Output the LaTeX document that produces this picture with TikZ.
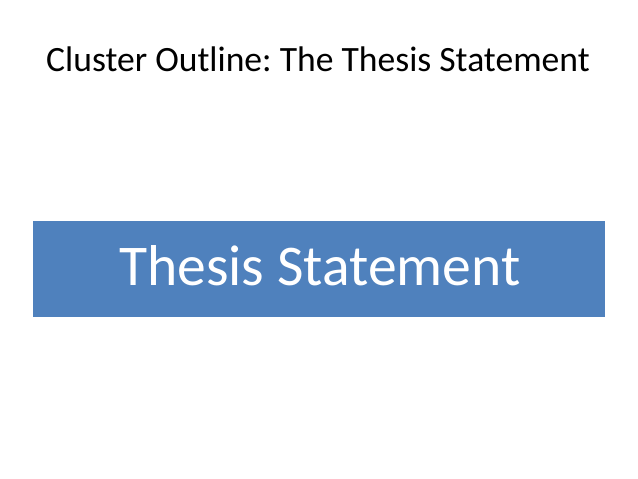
\documentclass[tikz,border=0pt]{standalone}
\usepackage{fontspec}
\setmainfont{Carlito}
\usepackage{tikz}
\definecolor{slideblue}{HTML}{4F81BD}
\frenchspacing

\begin{document}
\begin{tikzpicture}[x=1pt,y=-1pt,
    title node/.style={font=\fontsize{35.6}{40}\selectfont,anchor=base,inner sep=0pt},
    thesis box/.style={fill=slideblue,draw=none,minimum width=572pt,minimum height=96pt,inner sep=0pt},
    thesis text/.style={font=\fontsize{57.6}{66}\selectfont,text=white,anchor=base,inner sep=0pt}]
  \useasboundingbox (0,0) rectangle (638,479);
  \node[title node] (title) at (318,71) {Cluster Outline: The Thesis Statement};
  \node[thesis box] (box) at (319,269) {};
  \node[thesis text] (thesis) at (320,285) {Thesis Statement};
\end{tikzpicture}
\end{document}
